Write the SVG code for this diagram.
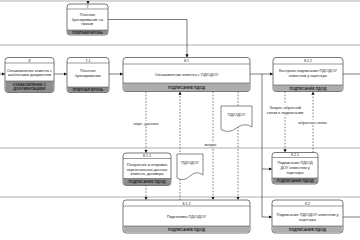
<svg xmlns="http://www.w3.org/2000/svg" width="360" height="240" viewBox="0 0 360 240">
<defs>
<marker id="ah" viewBox="0 0 6 6" refX="6" refY="3" markerWidth="3.2" markerHeight="3.2" orient="auto" markerUnits="userSpaceOnUse"><path d="M0,0 L6,3 L0,6 Z" fill="#111"/></marker>
<style>
text{font-family:"Liberation Sans",Arial,sans-serif;fill:#222;text-anchor:middle}
.box{fill:#fff;stroke:#555;stroke-width:0.8}
.hd{stroke:#555;stroke-width:0.6}
.num{font-size:3.6px}
.t{font-size:3.9px}
.ft{font-size:3.5px;font-weight:bold}
.fd{fill:#8e8e8e}
.fl{fill:#adadad}
.lane{stroke:#b0b0b0;stroke-width:1.2;fill:none}
.c{stroke:#222;stroke-width:0.6;fill:none}
.d{stroke:#222;stroke-width:0.6;fill:none;stroke-dasharray:1.6 1.6}
.lbl{font-size:4px}
.doc{fill:#fff;stroke:#555;stroke-width:0.7}
</style>
</defs>
<rect width="360" height="240" fill="#fff"/>
<g id="lanes">
<line class="lane" x1="0" y1="1" x2="360" y2="1"/>
<line class="lane" x1="0" y1="45" x2="360" y2="45"/>
<line class="lane" x1="0" y1="148" x2="360" y2="148"/>
<line class="lane" x1="0" y1="197" x2="360" y2="197"/>
</g>
<g id="connectors">
<path class="c" d="M88,1 V4" marker-end="url(#ah)"/>
<path class="c" d="M108,19.5 H187 V57.5" marker-end="url(#ah)"/>
<path class="c" d="M0,74 H5" marker-end="url(#ah)"/>
<path class="c" d="M54,74 H67" marker-end="url(#ah)"/>
<path class="c" d="M109,74 H123" marker-end="url(#ah)"/>
<path class="c" d="M250,74 H273" marker-end="url(#ah)"/>
<path class="c" d="M343,74 H360"/>
<path class="c" d="M262,74 V217 H272" marker-end="url(#ah)"/>
<path class="c" d="M262,169 H272" marker-end="url(#ah)"/>
<path class="c" d="M343,217 H360"/>
<path class="d" d="M146,91.5 V153" marker-end="url(#ah)"/>
<path class="d" d="M146,185 V200" marker-end="url(#ah)"/>
<path class="d" d="M180,200 V91.5" marker-end="url(#ah)"/>
<path class="d" d="M213,91.5 V200" marker-end="url(#ah)"/>
<path class="d" d="M238,91.5 V200" marker-end="url(#ah)"/>
<path class="d" d="M285,91.5 V152.5" marker-end="url(#ah)"/>
<path class="d" d="M313,152.5 V91.5" marker-end="url(#ah)"/>
<rect x="133" y="121" width="26" height="5" fill="#fff"/>
<text class="lbl" x="146" y="125">перс. данные</text>
<rect x="203" y="142.5" width="15" height="4.5" fill="#fff"/>
<text class="lbl" x="210.5" y="146">запрос</text>
<rect x="266" y="104.5" width="38" height="11" fill="#fff"/>
<text class="lbl" x="285" y="108.5">Запрос обратной</text>
<text class="lbl" x="285" y="114">связи о подписании</text>
<rect x="298" y="119.5" width="29" height="5" fill="#fff"/>
<text class="lbl" x="312.5" y="123.5">обратная связь</text>
</g>
<g id="doc1">
<path class="doc" d="M221,106 H252 V127 Q244.5,122 236.5,128 Q228.5,134 221,129.5 Z"/>
<text class="t" x="236.5" y="116">ПД/ОДОУ</text>
</g>
<g id="doc2">
<path class="doc" d="M177,154 H203 V175 Q196.5,170 190,176 Q183.5,182 177,178 Z"/>
<text class="t" x="190" y="164">ПД/ОДОУ</text>
</g>
<g id="n7">
<rect class="box" x="67" y="4" width="41" height="31" rx="3"/>
<path class="fd" d="M67.4,30 H107.6 V32 Q107.6,34.6 105,34.6 H70 Q67.4,34.6 67.4,32 Z"/>
<line class="hd" x1="67" y1="9" x2="108" y2="9"/>
<line class="hd" x1="67" y1="30" x2="108" y2="30"/>
<text class="num" x="87.5" y="7.8">7</text>
<text class="t" x="87.5" y="16">Платное</text>
<text class="t" x="87.5" y="20.5">бронирование на</text>
<text class="t" x="87.5" y="25">показе</text>
<text class="ft" x="87.5" y="33.7">ПЛАТНАЯ БРОНЬ</text>
</g>
<g id="n8">
<rect class="box" x="5" y="57.5" width="49" height="35" rx="3"/>
<path class="fd" d="M5.4,81 H53.6 V89.5 Q53.6,92.1 51,92.1 H8 Q5.4,92.1 5.4,89.5 Z"/>
<line class="hd" x1="5" y1="63" x2="54" y2="63"/>
<line class="hd" x1="5" y1="81" x2="54" y2="81"/>
<text class="num" x="29.5" y="61.5">8</text>
<text class="t" x="29.5" y="71.5">Ознакомление клиента с</text>
<text class="t" x="29.5" y="76">шаблонами документов</text>
<text class="ft" x="29.5" y="85.5">ОЗНАКОМЛЕНИЕ С</text>
<text class="ft" x="29.5" y="90">ДОКУМЕНТАЦИЕЙ</text>
</g>
<g id="n7_1">
<rect class="box" x="67" y="57.5" width="42" height="35" rx="3"/>
<path class="fd" d="M67.4,87 H108.6 V89.5 Q108.6,92.1 106,92.1 H70 Q67.4,92.1 67.4,89.5 Z"/>
<line class="hd" x1="67" y1="63" x2="109" y2="63"/>
<line class="hd" x1="67" y1="87" x2="109" y2="87"/>
<text class="num" x="88" y="61.5">7.1</text>
<text class="t" x="88" y="72">Платное</text>
<text class="t" x="88" y="76.5">бронирование</text>
<text class="ft" x="88" y="90.8">ПЛАТНАЯ БРОНЬ</text>
</g>
<g id="n8_1">
<rect class="box" x="123" y="57.5" width="127" height="34" rx="3"/>
<path class="fl" d="M123.4,83 H249.6 V88.5 Q249.6,91.1 247,91.1 H126 Q123.4,91.1 123.4,88.5 Z"/>
<line class="hd" x1="123" y1="64" x2="250" y2="64"/>
<line class="hd" x1="123" y1="83" x2="250" y2="83"/>
<text class="num" x="186.5" y="62.3">8.1</text>
<text class="t" x="186.5" y="75.5">Ознакомление клиента с ПД/ОДОУ</text>
<text class="ft" x="186.5" y="88.5">ПОДПИСАНИЕ ПД/ОД</text>
</g>
<g id="n8_2_2">
<rect class="box" x="273" y="57.5" width="70" height="34" rx="3"/>
<path class="fl" d="M273.4,85 H342.6 V88.5 Q342.6,91.1 340,91.1 H276 Q273.4,91.1 273.4,88.5 Z"/>
<line class="hd" x1="273" y1="64" x2="343" y2="64"/>
<line class="hd" x1="273" y1="85" x2="343" y2="85"/>
<text class="num" x="308" y="62.3">8.2.2</text>
<text class="t" x="308" y="71.5">Контроль подписания ПД/ОДОУ</text>
<text class="t" x="308" y="76.5">клиентом у партнера</text>
<text class="ft" x="308" y="89.6">ПОДПИСАНИЕ ПД/ОД</text>
</g>
<g id="n8_1_1">
<rect class="box" x="123" y="153" width="48" height="32.5" rx="3"/>
<path class="fd" d="M123.4,178.5 H170.6 V182.5 Q170.6,185.1 168,185.1 H126 Q123.4,185.1 123.4,182.5 Z"/>
<line class="hd" x1="123" y1="158.5" x2="171" y2="158.5"/>
<line class="hd" x1="123" y1="178.5" x2="171" y2="178.5"/>
<text class="num" x="147" y="157.2">8.1.1</text>
<text class="t" x="147" y="166">Получение и отправка</text>
<text class="t" x="147" y="170.5">персональных данных</text>
<text class="t" x="147" y="175">клиента, договора</text>
<text class="ft" x="147" y="183.2">ПОДПИСАНИЕ ПД/ОД</text>
</g>
<g id="n8_2_1">
<rect class="box" x="272" y="152.5" width="46" height="31.5" rx="3"/>
<path class="fd" d="M272.4,178 H317.6 V181 Q317.6,183.6 315,183.6 H275 Q272.4,183.6 272.4,181 Z"/>
<line class="hd" x1="272" y1="157.5" x2="318" y2="157.5"/>
<line class="hd" x1="272" y1="178" x2="318" y2="178"/>
<text class="num" x="295" y="156.3">8.2.1</text>
<text class="t" x="295" y="163.5">Подписание ПД/ОД</text>
<text class="t" x="295" y="168.5">ДОУ клиентом у</text>
<text class="t" x="295" y="173.5">партнера</text>
<text class="ft" x="295" y="182.3">ПОДПИСАНИЕ ПД/ОД</text>
</g>
<g id="n8_1_2">
<rect class="box" x="123" y="200" width="127" height="33" rx="3"/>
<path class="fl" d="M123.4,226 H249.6 V230 Q249.6,232.6 247,232.6 H126 Q123.4,232.6 123.4,230 Z"/>
<line class="hd" x1="123" y1="206" x2="250" y2="206"/>
<line class="hd" x1="123" y1="226" x2="250" y2="226"/>
<text class="num" x="186.5" y="204.5">8.1.2</text>
<text class="t" x="186.5" y="217.5">Подготовка ПД/ОДОУ</text>
<text class="ft" x="186.5" y="230.8">ПОДПИСАНИЕ ПД/ОД</text>
</g>
<g id="n8_2">
<rect class="box" x="272" y="200" width="71" height="33" rx="3"/>
<path class="fl" d="M272.4,226 H342.6 V230 Q342.6,232.6 340,232.6 H275 Q272.4,232.6 272.4,230 Z"/>
<line class="hd" x1="272" y1="206" x2="343" y2="206"/>
<line class="hd" x1="272" y1="226" x2="343" y2="226"/>
<text class="num" x="307.5" y="204.5">8.2</text>
<text class="t" x="307.5" y="216">Подписание ПД/ОДОУ клиентом у</text>
<text class="t" x="307.5" y="221">партнера</text>
<text class="ft" x="307.5" y="230.8">ПОДПИСАНИЕ ПД/ОД</text>
</g>
</svg>
